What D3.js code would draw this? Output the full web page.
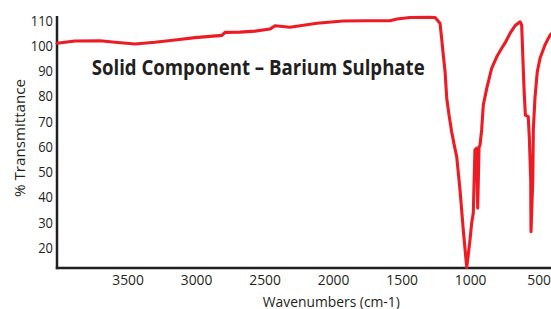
<!DOCTYPE html>
<html>
<head>
<meta charset="utf-8">
<script src="https://cdn.jsdelivr.net/npm/d3@7"></script>
<style>
  html, body { margin: 0; padding: 0; background: #fff; }
  svg { display: block; }
  text { font-family: "Open Sans", sans-serif; fill: #231f20; }
</style>
</head>
<body>
<script>
// ---- data ----
const wavenumbers = [4015, 3884, 3701, 3592, 3446, 3300, 3154, 3008, 2811, 2789, 2680, 2570, 2461, 2424, 2315, 2118, 1928, 1753, 1585, 1534, 1439, 1293, 1256, 1220, 1208, 1196, 1183, 1171, 1154, 1135, 1116, 1098, 1074, 1050, 1025, 1001, 989, 977, 965, 952, 945, 935, 928, 916, 904, 879, 843, 806, 770, 746, 709, 673, 636, 624, 616, 607, 597, 576, 568, 558, 556, 543, 539, 527, 510, 490, 454, 430, 415, 395];
const transmittance = [100.8, 101.7, 101.8, 101.2, 100.5, 101.2, 102.1, 103.0, 103.9, 105.1, 105.2, 105.6, 106.4, 107.7, 107.1, 108.7, 109.6, 109.7, 109.7, 110.4, 111.0, 111.1, 111.0, 108.7, 102.7, 96.1, 89.5, 79.1, 72.3, 65.7, 60.4, 55.8, 42.6, 26.7, 11.9, 22.8, 29.5, 33.5, 58.5, 59.2, 35.5, 59.6, 60.4, 66.4, 76.3, 82.9, 90.8, 95.4, 98.8, 100.8, 104.7, 107.7, 109.3, 108.0, 96.1, 83.0, 72.3, 71.7, 63.2, 46.6, 26.1, 46.6, 66.4, 79.1, 89.5, 94.8, 100.1, 102.7, 104.1, 105.2];
const xTicks = [3500, 3000, 2500, 2000, 1500, 1000, 500];
const yTicks = [110, 100, 90, 80, 70, 60, 50, 40, 30, 20];
const chartTitle = "Solid Component \u2013 Barium Sulphate";
const xTitle = "Wavenumbers (cm-1)";
const yTitle = "% Transmittance";

// ---- layout ----
const W = 551, H = 309;
const mLeft = 57, mRight = 551, mTop = 16, mBottom = 268;

const svg = d3.select("body").append("svg").attr("width", W).attr("height", H);

const x = d3.scaleLinear().domain([4015, 410]).range([mLeft, mRight]);
const y = d3.scaleLinear().domain([20, 110]).range([247, 20]);

// axis lines
svg.append("line").attr("x1", mLeft).attr("x2", mLeft).attr("y1", mTop).attr("y2", mBottom + 1.2)
  .attr("stroke", "#231f20").attr("stroke-width", 2.5);
svg.append("line").attr("x1", mLeft - 1.2).attr("x2", W + 2).attr("y1", mBottom).attr("y2", mBottom)
  .attr("stroke", "#231f20").attr("stroke-width", 2.5);

// y tick labels
const yAxis = d3.axisLeft(y).tickValues(yTicks).tickFormat(d3.format("d")).tickSize(0).tickPadding(0);
const gy = svg.append("g").attr("transform", `translate(${mLeft - 4},0)`).call(yAxis);
gy.select(".domain").remove();
gy.selectAll("text").attr("font-size", 15).attr("dy", "0.35em")
  .style("font-family", '"Open Sans", sans-serif').attr("fill", "#231f20")
  .attr("textLength", d => String(d).length * 7.4).attr("lengthAdjust", "spacingAndGlyphs");

// x tick labels
const xAxis = d3.axisBottom(x).tickValues(xTicks).tickFormat(d3.format("d")).tickSize(0).tickPadding(0);
const gx = svg.append("g").attr("transform", `translate(0,${mBottom})`).call(xAxis);
gx.select(".domain").remove();
gx.selectAll("text").attr("font-size", 15).attr("y", 17).attr("dy", 0)
  .style("font-family", '"Open Sans", sans-serif').attr("fill", "#231f20")
  .attr("textLength", d => String(d).length * 7.9).attr("lengthAdjust", "spacingAndGlyphs");

// axis titles
svg.append("text").attr("x", 331.3).attr("y", 306.5).attr("text-anchor", "middle")
  .attr("font-size", 15).attr("textLength", 137).attr("lengthAdjust", "spacingAndGlyphs")
  .text(xTitle);
svg.append("text").attr("transform", "translate(24.5,138) rotate(-90)").attr("text-anchor", "middle")
  .attr("font-size", 15).attr("textLength", 118).attr("lengthAdjust", "spacingAndGlyphs")
  .text(yTitle);

// chart title
svg.append("text").attr("x", 91.7).attr("y", 74.5).attr("font-size", 21).attr("font-weight", "bold")
  .attr("textLength", 333).attr("lengthAdjust", "spacingAndGlyphs")
  .text(chartTitle);

// spectrum line
const pts = wavenumbers.map((w, i) => [w, transmittance[i]]);
const line = d3.line().x(d => x(d[0])).y(d => y(d[1])).curve(d3.curveLinear);
svg.append("path").datum(pts).attr("d", line)
  .attr("fill", "none").attr("stroke", "#ed1c24").attr("stroke-width", 3.1)
  .attr("stroke-linejoin", "round").attr("stroke-linecap", "round");
</script>
</body>
</html>
